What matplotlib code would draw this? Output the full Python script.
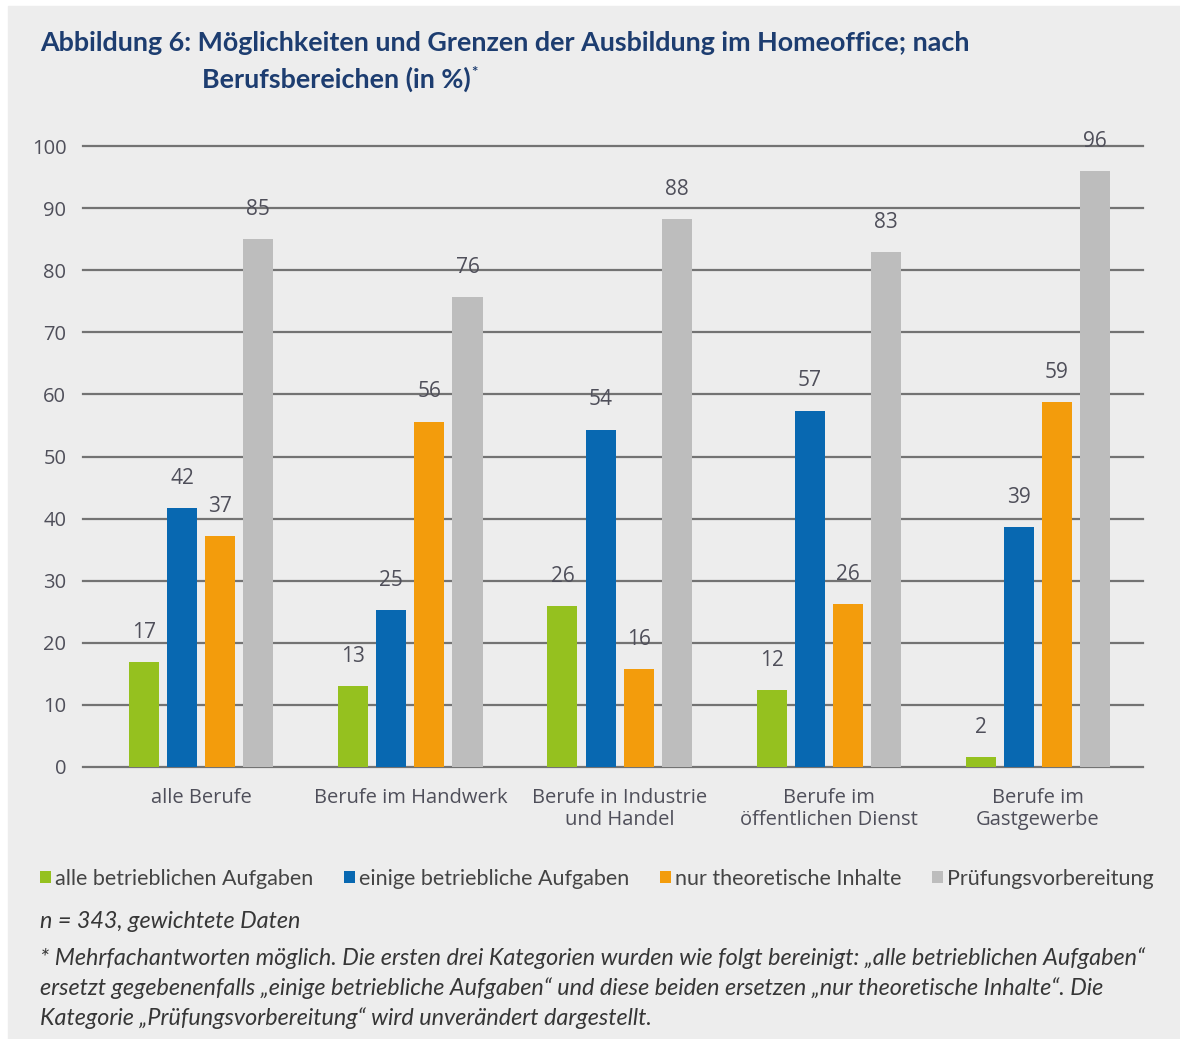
import numpy as np
import matplotlib
matplotlib.use("Agg")
import matplotlib.pyplot as plt
from matplotlib.patches import Rectangle

# ─── DATA ─────────────────────────────────────────────────────────────────────

categories = ["alle Berufe", "Berufe im Handwerk", "Berufe in Industrie\nund Handel",
              "Berufe im\nöffentlichen Dienst", "Berufe im\nGastgewerbe"]
series_names = ["alle betrieblichen Aufgaben", "einige betriebliche Aufgaben",
                "nur theoretische Inhalte", "Prüfungsvorbereitung"]
alle_aufgaben    = [16.9, 13.0, 25.9, 12.4, 1.6]
einige_aufgaben  = [41.7, 25.3, 54.3, 57.4, 38.6]
nur_theorie      = [37.2, 55.6, 15.8, 26.2, 58.8]
pruefung         = [85.0, 75.7, 88.2, 82.9, 96.0]
yticks = list(range(0, 101, 10))

# ─── STYLE ────────────────────────────────────────────────────────────────────

BG        = "#ededed"
COLORS    = ["#95c11f", "#0868b1", "#f39c0c", "#bdbdbd"]
GRID      = "#737373"
TXT       = "#4f4f5a"
TITLE_COL = "#1d3d70"
NARROW    = ["Lato", "DejaVu Sans"]
LIGHT     = ["Open Sans", "DejaVu Sans"]

W, H = 1180, 1039
fig = plt.figure(figsize=(W / 100, H / 100), dpi=100, facecolor="white")
fig.patches.append(Rectangle((8 / W, 0), 1 - 8 / W, 1 - 6 / H,
                             transform=fig.transFigure, color=BG, zorder=-10))

ax = fig.add_axes([83 / W, 1 - 767 / H, (1143 - 83) / W, (767 - 146) / H])
ax.set_facecolor("none")

x = np.arange(len(categories))
bw, pitch = 0.1435, 0.182
all_series = [alle_aufgaben, einige_aufgaben, nur_theorie, pruefung]
handles = []
for i, (vals, col, name) in enumerate(zip(all_series, COLORS, series_names)):
    pos = x + (i - 1.5) * pitch
    b = ax.bar(pos, vals, width=bw, color=col, zorder=3, label=name)
    handles.append(b)
    for px, v in zip(pos, vals):
        ax.text(px, v + 4.8, f"{round(v)}", ha="center", va="center",
                fontsize=15, color=TXT, family=LIGHT, clip_on=False)

for t in yticks:
    ax.axhline(t, color=GRID, lw=1.6, zorder=1, clip_on=False)

ax.set_xlim(-0.565, 4.502)
ax.set_ylim(0, 100)
ax.set_yticks(yticks)
ax.set_yticklabels([str(t) for t in yticks], family=LIGHT, fontsize=14.5, color=TXT)
ax.set_xticks(x)
ax.set_xticklabels(categories, family=LIGHT, fontsize=14.5, color=TXT, linespacing=1.15)
ax.tick_params(axis="both", length=0)
ax.tick_params(axis="y", pad=12)
ax.tick_params(axis="x", pad=15)
for s in ax.spines.values():
    s.set_visible(False)

# ─── TITLE ────────────────────────────────────────────────────────────────────

fig.text(40 / W, 1 - 43 / H,
         "Abbildung 6: Möglichkeiten und Grenzen der Ausbildung im Homeoffice; nach",
         family=NARROW, fontweight="bold", fontsize=19.4, color=TITLE_COL,
         va="center", ha="left")
t2 = fig.text(202 / W, 1 - 79 / H, "Berufsbereichen (in %)",
              family=NARROW, fontweight="bold", fontsize=19.4, color=TITLE_COL,
              va="center", ha="left")
ax.annotate("*", xy=(1, 1), xycoords=t2, xytext=(0.5, 0), textcoords="offset points",
            ha="left", va="top", fontsize=11, fontweight="bold", color=TITLE_COL,
            family=NARROW, annotation_clip=False)

# ─── LEGEND ───────────────────────────────────────────────────────────────────

fig.legend(handles=handles, labels=series_names, loc="center left",
           bbox_to_anchor=(40 / W, 1 - 879 / H), ncol=4, frameon=False,
           handlelength=0.5, handleheight=0.5, handletextpad=0.2,
           columnspacing=1.42, borderaxespad=0, borderpad=0,
           prop={"family": NARROW, "size": 15.5})
for txt in fig.legends[0].get_texts():
    txt.set_color("#444444")

# ─── FOOTNOTES ────────────────────────────────────────────────────────────────

note_kw = dict(family=NARROW, style="italic", fontsize=16.8, color="#363636",
               va="center", ha="left")
fig.text(40 / W, 1 - 921 / H, "n = 343, gewichtete Daten", **note_kw)
fig.text(40 / W, 1 - 958 / H,
         "* Mehrfachantworten möglich. Die ersten drei Kategorien wurden wie folgt bereinigt: "
         "„alle betrieblichen Aufgaben“", **note_kw)
fig.text(40 / W, 1 - 988 / H,
         "ersetzt gegebenenfalls „einige betriebliche Aufgaben“ und diese beiden ersetzen "
         "„nur theoretische Inhalte“. Die", **note_kw)
fig.text(40 / W, 1 - 1018 / H,
         "Kategorie „Prüfungsvorbereitung“ wird unverändert dargestellt.", **note_kw)

fig.savefig("out.png", dpi=100, facecolor=fig.get_facecolor())
